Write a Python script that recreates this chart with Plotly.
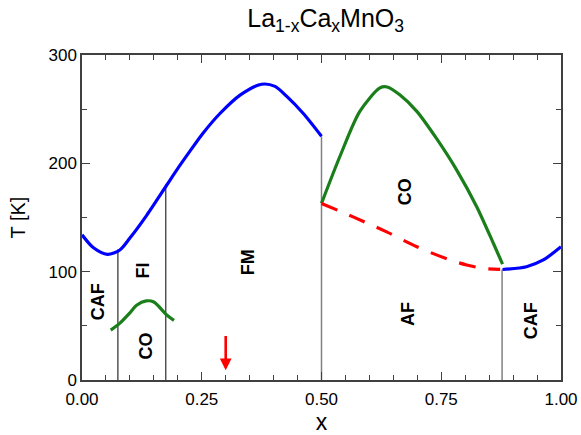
import plotly.graph_objects as go

# ---- data ----
blue_left_x = [0.0, 0.024, 0.053, 0.079, 0.1, 0.135, 0.177, 0.198, 0.225, 0.253, 0.288, 0.33, 0.375, 0.403, 0.427, 0.462, 0.5]
blue_left_T = [134, 122, 116, 120, 131, 152, 180, 194, 211, 228, 246, 263, 273, 271, 262, 246, 225]

green_small_x = [0.06, 0.078, 0.1, 0.114, 0.134, 0.15, 0.177, 0.192]
green_small_T = [46, 52, 62, 69, 73, 72, 60, 55]

green_dome_x = [0.5, 0.539, 0.58, 0.622, 0.637, 0.664, 0.699, 0.74, 0.782, 0.824, 0.859, 0.878]
green_dome_T = [163, 207, 248, 269.6, 270.5, 263, 248, 223, 194, 160, 126, 107]

red_x = [0.5, 0.566, 0.636, 0.699, 0.768, 0.803, 0.837, 0.873]
red_T = [163, 150.6, 136.7, 123, 110.8, 106.2, 103.1, 102.2]

blue_right_x = [0.878, 0.928, 0.963, 1.0]
blue_right_T = [102, 104.6, 110.8, 123]

black_bound_x = [0.075, 0.175]
black_bound_top = [120.5, 180]
gray_bound_x = [0.5, 0.877]
gray_bound_top = [225, 102]

arrow_x = 0.3
arrow_T = [42, 9]

labels = ["CAF", "FI", "CO", "FM", "CO", "AF", "CAF"]
label_x = [0.034, 0.127, 0.134, 0.347, 0.674, 0.681, 0.939]
label_T = [72, 101, 31, 109, 174, 61, 55]

x_ticks = [0, 0.25, 0.5, 0.75, 1.0]
x_ticklabels = ["0.00", "0.25", "0.50", "0.75", "1.00"]
y_ticks = [0, 100, 200, 300]

FONT = "Arial, Liberation Sans, sans-serif"

# ---- figure ----
fig = go.Figure()

for bx, top in zip(black_bound_x, black_bound_top):
    fig.add_trace(go.Scatter(x=[bx, bx], y=[0, top], mode="lines",
                             line=dict(color="black", width=1), hoverinfo="skip"))
for gx, top in zip(gray_bound_x, gray_bound_top):
    fig.add_trace(go.Scatter(x=[gx, gx], y=[0, top], mode="lines",
                             line=dict(color="#808080", width=1.5), hoverinfo="skip"))

spline = dict(shape="spline", smoothing=0.8)
fig.add_trace(go.Scatter(x=blue_left_x, y=blue_left_T, mode="lines",
                         line=dict(color="#0000ff", width=3.2, **spline)))
fig.add_trace(go.Scatter(x=blue_right_x, y=blue_right_T, mode="lines",
                         line=dict(color="#0000ff", width=3.2, **spline)))
fig.add_trace(go.Scatter(x=green_small_x, y=green_small_T, mode="lines",
                         line=dict(color="#1a7f1a", width=3.2, **spline)))
fig.add_trace(go.Scatter(x=green_dome_x, y=green_dome_T, mode="lines",
                         line=dict(color="#1a7f1a", width=3.2, **spline)))
fig.add_trace(go.Scatter(x=red_x, y=red_T, mode="lines",
                         line=dict(color="#ff0000", width=3.2, dash="17px,13px", **spline)))

fig.add_annotation(x=arrow_x, y=arrow_T[1], ax=arrow_x, ay=arrow_T[0],
                   xref="x", yref="y", axref="x", ayref="y", text="",
                   showarrow=True, arrowhead=2, arrowsize=0.9, arrowwidth=2.6,
                   arrowcolor="#ff0000")

for t, lx, ly in zip(labels, label_x, label_T):
    fig.add_annotation(x=lx, y=ly, xref="x", yref="y", text="<b>%s</b>" % t,
                       showarrow=False, textangle=-90,
                       font=dict(family=FONT, size=18, color="black"))

axis_common = dict(showline=True, linecolor="#404040", linewidth=1.5, mirror="ticks",
                   ticks="inside", ticklen=8, tickwidth=1.2, tickcolor="#404040",
                   showgrid=False, zeroline=False, automargin=False,
                   tickfont=dict(family=FONT, size=17, color="black"))

fig.update_xaxes(range=[0, 1], tickvals=x_ticks, ticktext=x_ticklabels,
                 ticklabelstandoff=3,
                 minor=dict(ticks="inside", ticklen=5, dtick=0.05, tickcolor="#404040", tickwidth=1.2),
                 title=dict(text="x", font=dict(family=FONT, size=23, color="black"),
                            standoff=12),
                 **axis_common)
fig.update_yaxes(range=[0, 300], tickvals=y_ticks,
                 minor=dict(ticks="inside", ticklen=5, dtick=50, tickcolor="#404040", tickwidth=1.2),
                 title=dict(text="T [K]", font=dict(family=FONT, size=20, color="black"),
                            standoff=17),
                 **axis_common)

fig.update_layout(
    width=581, height=435,
    margin=dict(l=82, r=20, t=55, b=55, autoexpand=False),
    paper_bgcolor="white", plot_bgcolor="white",
    showlegend=False,
    title=dict(text="La<sub>1-x</sub>Ca<sub>x</sub>MnO<sub>3</sub>",
               x=0.5605, xanchor="center", y=0.978, yanchor="top",
               font=dict(family=FONT, size=25, color="black")),
)

fig.write_html("out.html")
